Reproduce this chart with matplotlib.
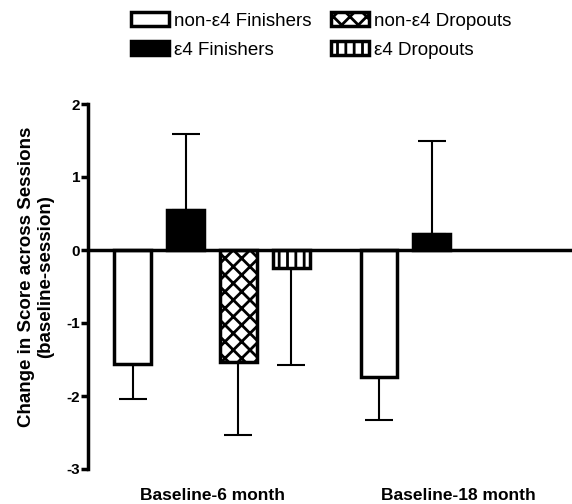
import matplotlib
matplotlib.use("Agg")
import matplotlib.pyplot as plt
import numpy as np
from matplotlib.patches import Patch

plt.rcParams['font.family'] = ['Liberation Sans', 'DejaVu Sans']
plt.rcParams['hatch.linewidth'] = 2.0

groups = ["Baseline-6 month", "Baseline-18 month"]
series = ["non-\u03b54 Finishers", "\u03b54 Finishers", "non-\u03b54 Dropouts", "\u03b54 Dropouts"]
# values per series for [6 month, 18 month]; NaN = no bar
means = {
    "non-\u03b54 Finishers": [-1.56, -1.74],
    "\u03b54 Finishers": [0.55, 0.22],
    "non-\u03b54 Dropouts": [-1.53, np.nan],
    "\u03b54 Dropouts": [-0.25, np.nan],
}
errors = {
    "non-\u03b54 Finishers": [0.48, 0.59],
    "\u03b54 Finishers": [1.04, 1.27],
    "non-\u03b54 Dropouts": [1.00, np.nan],
    "\u03b54 Dropouts": [1.33, np.nan],
}
yticks = [-3, -2, -1, 0, 1, 2]

styles = {
    "non-\u03b54 Finishers": dict(facecolor='white', hatch=None),
    "\u03b54 Finishers": dict(facecolor='black', hatch=None),
    "non-\u03b54 Dropouts": dict(facecolor='white', hatch='xx'),
    "\u03b54 Dropouts": dict(facecolor='white', hatch='||'),
}

fig = plt.figure(figsize=(5.72, 5.04), dpi=100)
ax = fig.add_axes([88/572, 1-469/504, 1-88/572, (469-104)/504])

step = 0.215
width = 0.148
offsets = (np.arange(4) - 1.5) * step
gx = np.arange(len(groups))

handles = []
for i, s in enumerate(series):
    m = np.array(means[s], dtype=float)
    e = np.array(errors[s], dtype=float)
    xs = gx + offsets[i]
    ok = ~np.isnan(m)
    st = styles[s]
    ax.bar(xs[ok], m[ok], width=width, facecolor=st['facecolor'], edgecolor='black',
           linewidth=2.5, hatch=st['hatch'], zorder=3)
    lower = np.where(m[ok] < 0, e[ok], 0)
    upper = np.where(m[ok] > 0, e[ok], 0)
    ax.errorbar(xs[ok], m[ok], yerr=[lower, upper], fmt='none', ecolor='black',
                elinewidth=1.5, capsize=10, capthick=1.5, zorder=2)
    handles.append(Patch(facecolor=st['facecolor'], edgecolor='black', linewidth=2.5,
                         hatch=st['hatch'], label=s))

ax.axhline(0, color='black', linewidth=2.5, zorder=4)
ax.set_xlim(-0.504, 1.463)
ax.set_ylim(-3, 2)
ax.set_yticks(yticks)
ax.set_yticklabels([str(t) for t in yticks], fontsize=11, fontweight='bold')
ax.tick_params(axis='y', direction='out', length=5, width=2.5, pad=0.5)
ax.set_xticks([])
for sp in ['top', 'right', 'bottom']:
    ax.spines[sp].set_visible(False)
ax.spines['left'].set_linewidth(2.5)

for g, lab in zip(gx, groups):
    ax.text(g, -3.36, lab, ha='center', va='center', fontsize=12.5, fontweight='bold',
            clip_on=False)

fig.text(36/572, 1-277/504, "Change in Score across Sessions\n(baseline-session)",
         rotation=90, ha='center', va='center', fontsize=13.5, fontweight='bold',
         linespacing=1.12)

fig.legend(handles=handles, ncol=2, loc='upper left', bbox_to_anchor=(131/572, 1-12/504),
           frameon=False, fontsize=13.5, handlelength=2.0, handleheight=0.8,
           handletextpad=0.3, columnspacing=1.05, labelspacing=0.6,
           borderpad=0, borderaxespad=0)

fig.savefig("out.png", dpi=100, facecolor='white')
